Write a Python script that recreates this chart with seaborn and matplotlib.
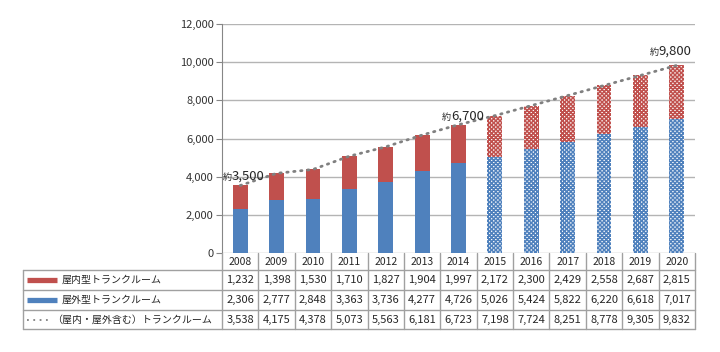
import numpy as np
import pandas as pd
import seaborn as sns
import matplotlib.pyplot as plt
from matplotlib.transforms import blended_transform_factory

# data
years = [str(y) for y in range(2008, 2021)]
indoor = [1232, 1398, 1530, 1710, 1827, 1904, 1997, 2172, 2300, 2429, 2558, 2687, 2815]
outdoor = [2306, 2777, 2848, 3363, 3736, 4277, 4726, 5026, 5424, 5822, 6220, 6618, 7017]
total = [3538, 4175, 4378, 5073, 5563, 6181, 6723, 7198, 7724, 8251, 8778, 9305, 9832]
row_labels = ["屋内型トランクルーム", "屋外型トランクルーム", "（屋内・屋外含む）トランクルーム"]
callouts = {0: "3,500", 6: "6,700", 12: "9,800"}
forecast_from = 7  # 2015 onwards hatched

red = "#C0504D"
blue = "#4F81BD"
grid_c = "#B4B4B4"

sns.set_style("white")
plt.rcParams['font.family'] = ['Noto Sans CJK JP', 'DejaVu Sans']
plt.rcParams['hatch.linewidth'] = 1.1

df = pd.DataFrame({"year": years, "indoor": indoor, "outdoor": outdoor, "total": total})

W, H = 720, 352
fig = plt.figure(figsize=(W / 100, H / 100), dpi=100)
ax = fig.add_axes([222 / W, 1 - 253 / H, 473 / W, 229 / H])

# stacked bars: total (red) behind, outdoor (blue) in front
sns.barplot(data=df, x="year", y="total", color=red, width=0.41, ax=ax, saturation=1)
n = len(years)
sns.barplot(data=df, x="year", y="outdoor", color=blue, width=0.41, ax=ax, saturation=1)

for i, p in enumerate(ax.patches):
    p.set_linewidth(0)
    idx = i % n
    if idx >= forecast_from:
        c = red if i < n else blue
        p.set_facecolor("white")
        p.set_edgecolor(c)
        p.set_hatch("xxxxxxxx")

# dotted total line
ax.plot(range(n), df["total"], color="#808080", lw=2, ls=(0, (0.5, 2.0)),
        dash_capstyle="round", zorder=5)

ax.set_xlim(-0.5, n - 0.5)
ax.set_ylim(0, 12000)
ax.set_yticks(range(0, 12001, 2000))
ax.set_yticklabels([f"{v:,}" for v in range(0, 12001, 2000)], fontsize=8, color="#333333")
ax.set_xticks([])
ax.set_xlabel("")
ax.set_ylabel("")
ax.yaxis.grid(True, color=grid_c, lw=1)
ax.set_axisbelow(True)
for s in ["top", "right", "bottom"]:
    ax.spines[s].set_visible(False)
ax.spines["left"].set_color("#868686")
ax.tick_params(axis="y", length=4, color="#868686", pad=2, left=True)

# callouts
ann_pos = {0: (-0.23, 3830), 6: (5.79, 6970), 12: (11.5, 10370)}
for k, txt in callouts.items():
    x, y = ann_pos[k]
    ax.text(x, y, txt, fontsize=9.5, ha="left", va="baseline", zorder=6)
    ax.text(x, y, "約", fontsize=6.5, ha="right", va="baseline", zorder=6)

# data table
tr = blended_transform_factory(ax.transData, fig.transFigure)
fy = lambda py: 1 - py / H
line_c = "#A0A0A0"
left_px = 23 / W
rows_px = [270, 290, 309.5, 329]
for ypx in rows_px:
    fig.add_artist(plt.Line2D([left_px, 695 / W], [fy(ypx)] * 2, color=line_c, lw=1,
                              transform=fig.transFigure))
fig.add_artist(plt.Line2D([left_px] * 2, [fy(270), fy(329)], color=line_c, lw=1,
                          transform=fig.transFigure))
for xb in np.arange(-0.5, n, 1.0):
    fig.add_artist(plt.Line2D([xb, xb], [fy(253), fy(329)], color=line_c, lw=1, transform=tr))

for i, yr in enumerate(years):
    fig.text(i, fy(262), yr, transform=tr, ha="center", va="center", fontsize=7.5)

row_vals = [indoor, outdoor, total]
centers = [280, 300, 319.5]
label_x = [62, 62, 52]
for r, (vals, cy) in enumerate(zip(row_vals, centers)):
    for i, v in enumerate(vals):
        fig.text(i, fy(cy), f"{v:,}", transform=tr, ha="center", va="center", fontsize=8)
    fig.text(label_x[r] / W, fy(cy), row_labels[r], ha="left", va="center", fontsize=7.2)

# legend swatches in table
sw_x = [27 / W, 57 / W]
fig.add_artist(plt.Line2D(sw_x, [fy(280)] * 2, color=red, lw=3.8, solid_capstyle="butt",
                          transform=fig.transFigure))
fig.add_artist(plt.Line2D(sw_x, [fy(300)] * 2, color=blue, lw=3.8, solid_capstyle="butt",
                          transform=fig.transFigure))
fig.add_artist(plt.Line2D([27 / W, 50 / W], [fy(319.5)] * 2, color="#808080", lw=1.3,
                          ls=(0, (1, 2.5)), transform=fig.transFigure))

fig.savefig("out.png", dpi=100)
